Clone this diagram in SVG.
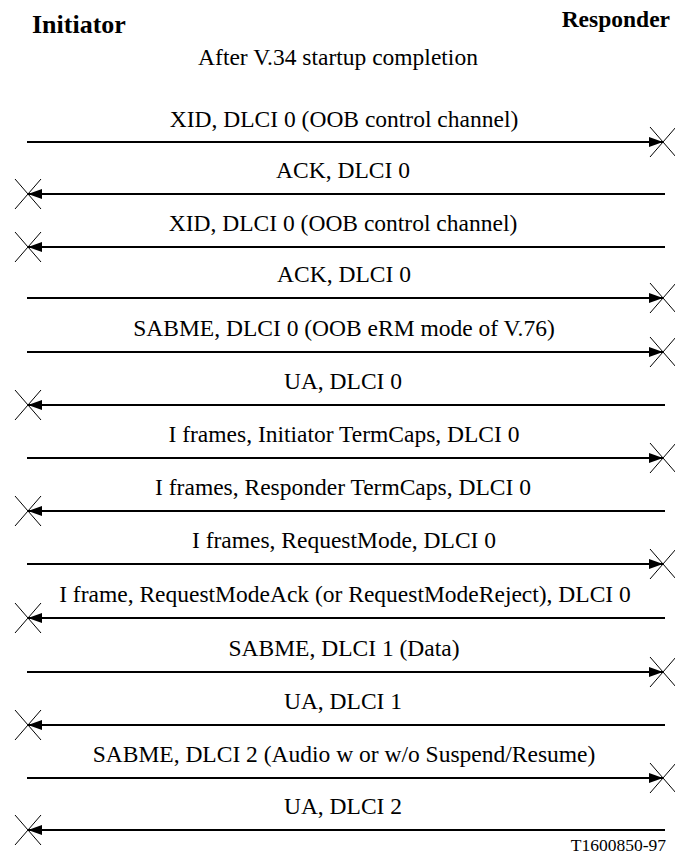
<svg xmlns="http://www.w3.org/2000/svg" width="675" height="855" viewBox="0 0 675 855">
<style>
.lbl{font-family:"Liberation Serif","Times New Roman",serif;font-size:23.5px;fill:#000;text-anchor:middle}
.hdr{font-family:"Liberation Serif","Times New Roman",serif;font-weight:bold;fill:#000}
.ln{stroke:#000;stroke-width:2;fill:none}
.x{stroke:#000;stroke-width:1;fill:none}
</style>
<defs>
<marker id="ah" viewBox="0 0 14 10" refX="14" refY="5" markerWidth="14" markerHeight="10" markerUnits="userSpaceOnUse" orient="auto">
<path d="M0,0 L14,5 L0,10 Z" fill="#000"/>
</marker>
<path id="xm" class="x" d="M-13,-15 L13,15 M-13,15 L13,-15"/>
</defs>
<g id="initiator"><text class="hdr" x="32" y="33" font-size="26">Initiator</text></g>
<g id="responder"><text class="hdr" x="670" y="27" font-size="23.5" text-anchor="end">Responder</text></g>
<text class="lbl" x="338" y="65" font-size="23">After V.34 startup completion</text>
<g id="connectors">
<g id="m1"><line class="ln" x1="27" y1="142" x2="663" y2="142" marker-end="url(#ah)"/><use href="#xm" x="663" y="142"/><text class="lbl" x="344" y="127">XID, DLCI 0 (OOB control channel)</text></g>
<g id="m2"><line class="ln" x1="665" y1="194" x2="28" y2="194" marker-end="url(#ah)"/><use href="#xm" x="28" y="194"/><text class="lbl" x="343" y="178">ACK, DLCI 0</text></g>
<g id="m3"><line class="ln" x1="665" y1="247" x2="28" y2="247" marker-end="url(#ah)"/><use href="#xm" x="28" y="247"/><text class="lbl" x="343" y="231">XID, DLCI 0 (OOB control channel)</text></g>
<g id="m4"><line class="ln" x1="27" y1="298" x2="663" y2="298" marker-end="url(#ah)"/><use href="#xm" x="663" y="298"/><text class="lbl" x="344" y="282">ACK, DLCI 0</text></g>
<g id="m5"><line class="ln" x1="27" y1="352" x2="663" y2="352" marker-end="url(#ah)"/><use href="#xm" x="663" y="352"/><text class="lbl" x="344" y="336">SABME, DLCI 0 (OOB eRM mode of V.76)</text></g>
<g id="m6"><line class="ln" x1="665" y1="405" x2="28" y2="405" marker-end="url(#ah)"/><use href="#xm" x="28" y="405"/><text class="lbl" x="343" y="389">UA, DLCI 0</text></g>
<g id="m7"><line class="ln" x1="27" y1="458" x2="663" y2="458" marker-end="url(#ah)"/><use href="#xm" x="663" y="458"/><text class="lbl" x="344" y="442">I frames, Initiator TermCaps, DLCI 0</text></g>
<g id="m8"><line class="ln" x1="665" y1="511" x2="28" y2="511" marker-end="url(#ah)"/><use href="#xm" x="28" y="511"/><text class="lbl" x="343" y="495">I frames, Responder TermCaps, DLCI 0</text></g>
<g id="m9"><line class="ln" x1="27" y1="564" x2="663" y2="564" marker-end="url(#ah)"/><use href="#xm" x="663" y="564"/><text class="lbl" x="344" y="548">I frames, RequestMode, DLCI 0</text></g>
<g id="m10"><line class="ln" x1="665" y1="618" x2="28" y2="618" marker-end="url(#ah)"/><use href="#xm" x="28" y="618"/><text class="lbl" x="345" y="602">I frame, RequestModeAck (or RequestModeReject), DLCI 0</text></g>
<g id="m11"><line class="ln" x1="27" y1="672" x2="663" y2="672" marker-end="url(#ah)"/><use href="#xm" x="663" y="672"/><text class="lbl" x="344" y="656">SABME, DLCI 1 (Data)</text></g>
<g id="m12"><line class="ln" x1="665" y1="725" x2="28" y2="725" marker-end="url(#ah)"/><use href="#xm" x="28" y="725"/><text class="lbl" x="343" y="709">UA, DLCI 1</text></g>
<g id="m13"><line class="ln" x1="27" y1="778" x2="663" y2="778" marker-end="url(#ah)"/><use href="#xm" x="663" y="778"/><text class="lbl" x="344" y="762">SABME, DLCI 2 (Audio w or w/o Suspend/Resume)</text></g>
<g id="m14"><line class="ln" x1="665" y1="830" x2="28" y2="830" marker-end="url(#ah)"/><use href="#xm" x="28" y="830"/><text class="lbl" x="343" y="814">UA, DLCI 2</text></g>
</g>
<text x="666" y="851" font-family="'Liberation Serif','Times New Roman',serif" font-size="17.5" text-anchor="end">T1600850-97</text>
</svg>
